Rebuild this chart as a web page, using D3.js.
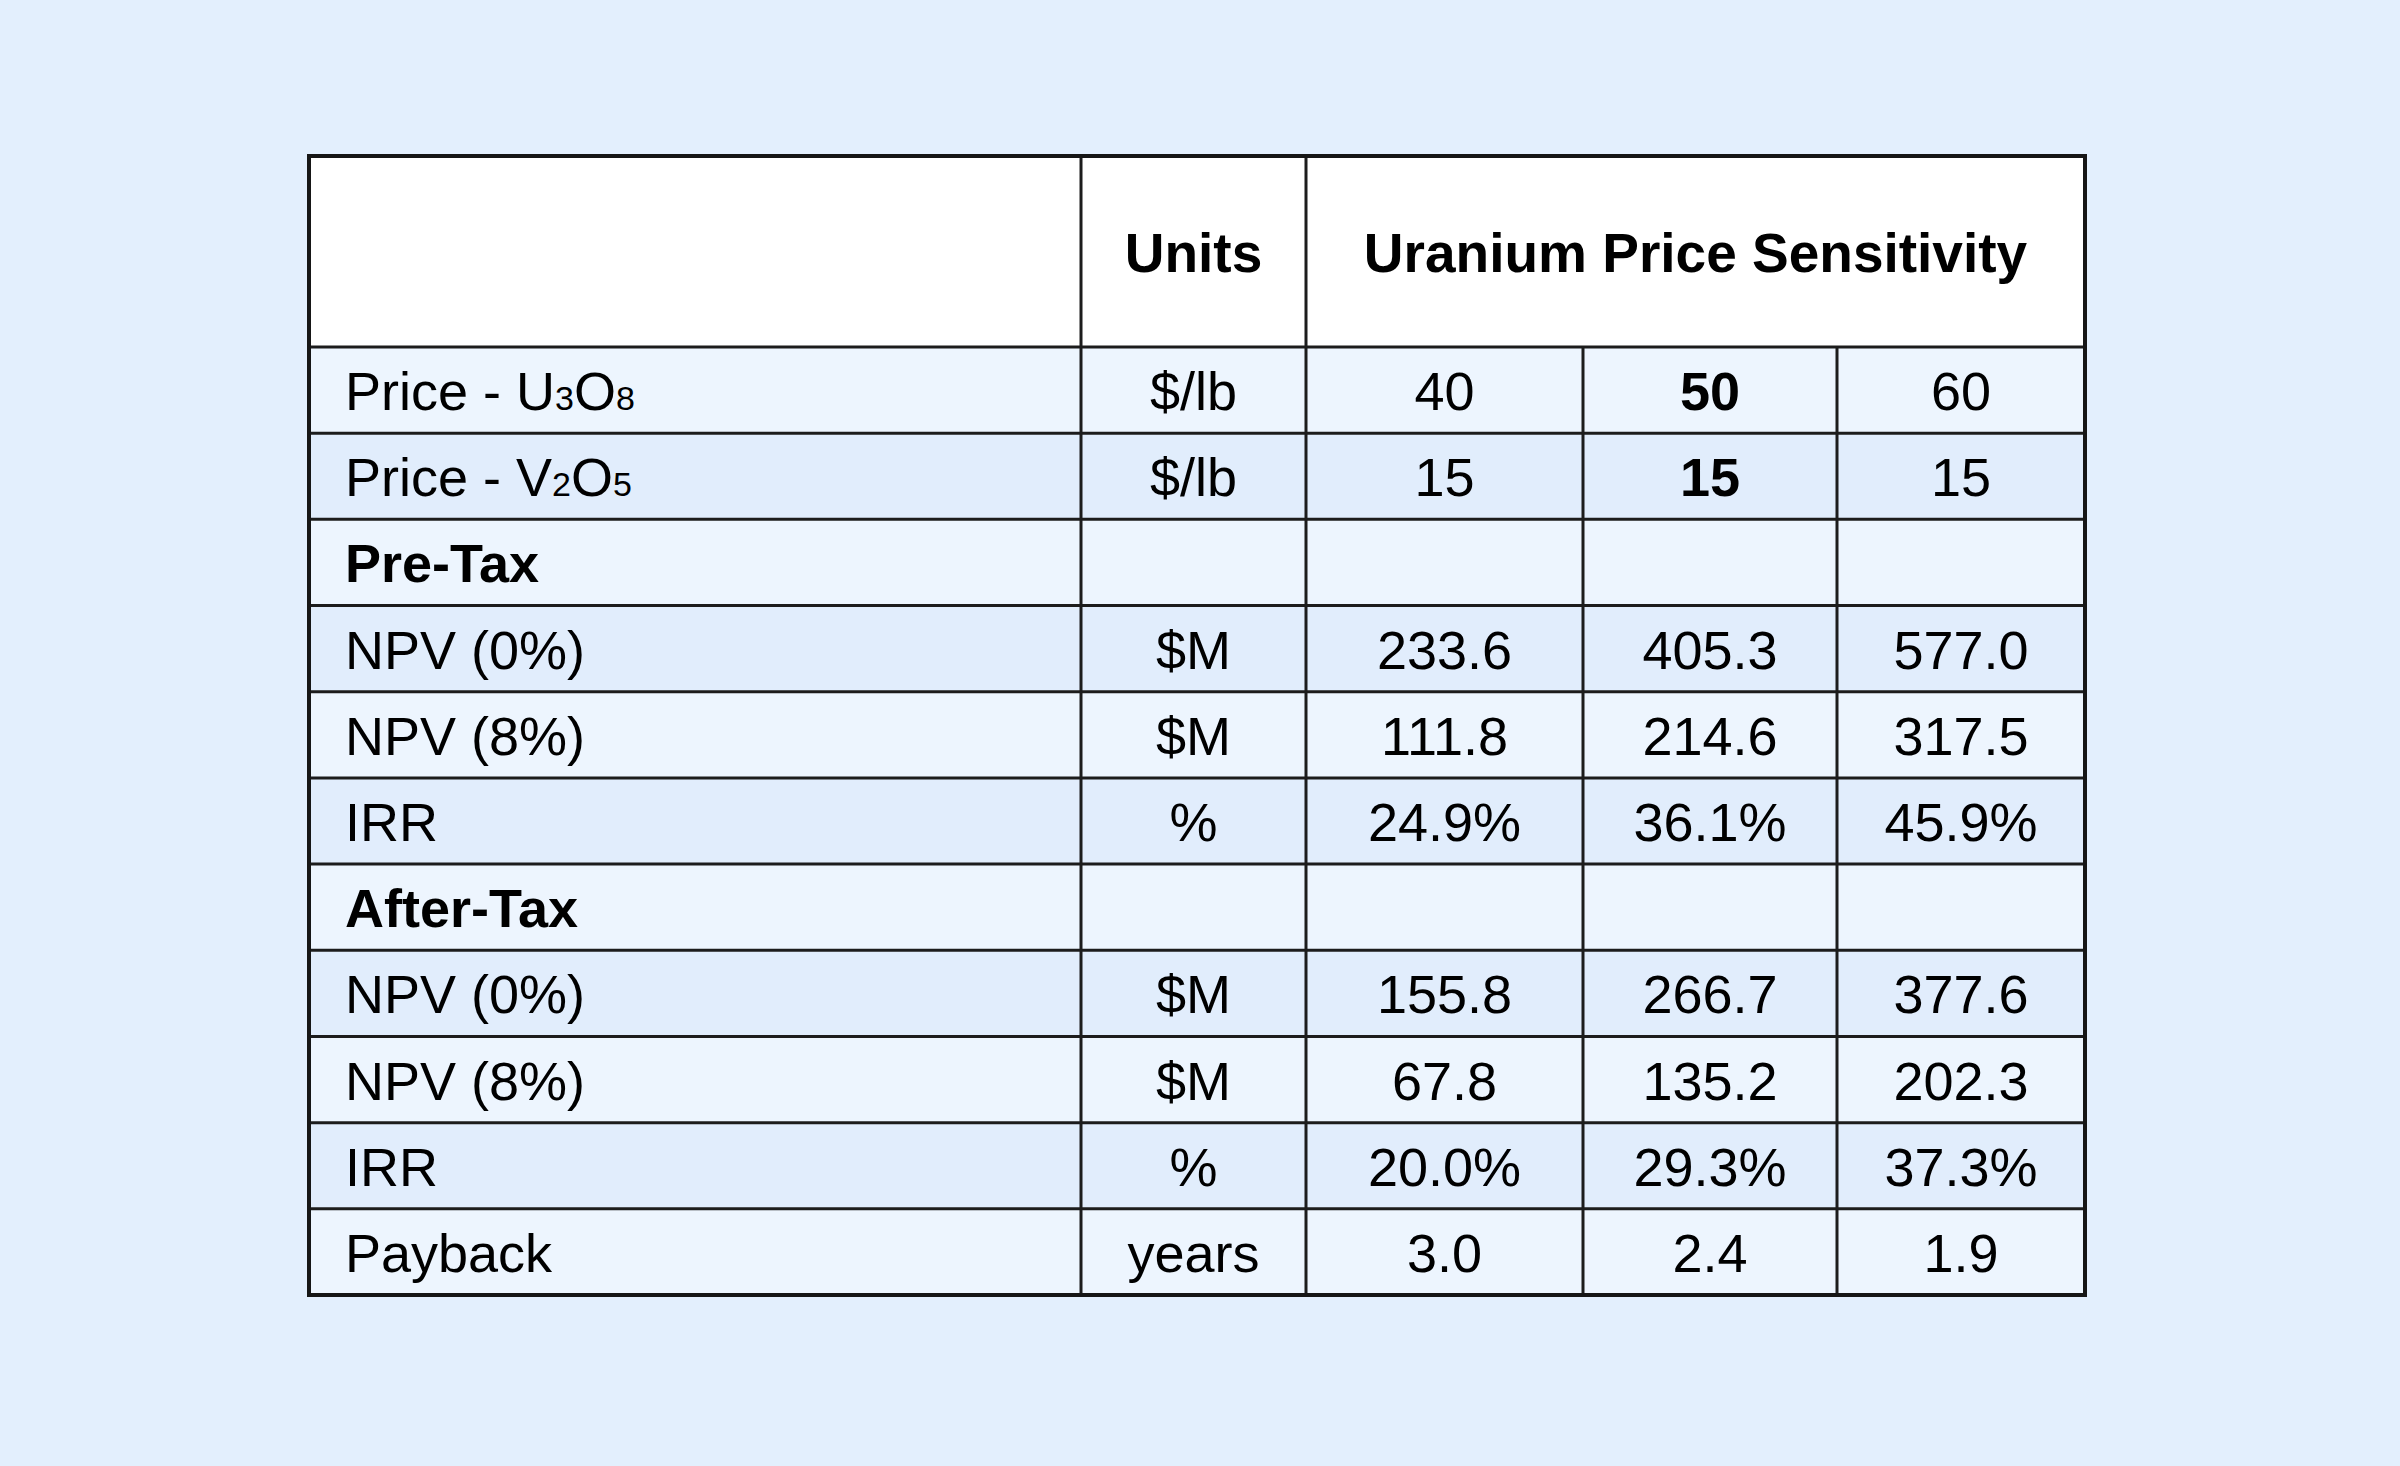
<!DOCTYPE html>
<html>
<head>
<meta charset="utf-8">
<script src="https://cdn.jsdelivr.net/npm/d3@7"></script>
<style>
  html, body { margin: 0; padding: 0; background: #e3effd; }
  svg { display: block; }
</style>
</head>
<body>
<div id="chart"></div>
<script>
// ---- Data ----
const headerUnits = "Units";
const headerGroup = "Uranium Price Sensitivity";
// row labels; segments with sub:true are rendered as small subscript digits
const rowLabels = [
  [{t: "Price - U"}, {t: "3", sub: true}, {t: "O"}, {t: "8", sub: true}],
  [{t: "Price - V"}, {t: "2", sub: true}, {t: "O"}, {t: "5", sub: true}],
  [{t: "Pre-Tax"}],
  [{t: "NPV (0%)"}],
  [{t: "NPV (8%)"}],
  [{t: "IRR"}],
  [{t: "After-Tax"}],
  [{t: "NPV (0%)"}],
  [{t: "NPV (8%)"}],
  [{t: "IRR"}],
  [{t: "Payback"}]
];
const sectionRows = [2, 6];           // bold section headings
const units = ["$/lb", "$/lb", "", "$M", "$M", "%", "", "$M", "$M", "%", "years"];
const scenarioLow  = ["40", "15", "", "233.6", "111.8", "24.9%", "", "155.8", "67.8", "20.0%", "3.0"];
const scenarioBase = ["50", "15", "", "405.3", "214.6", "36.1%", "", "266.7", "135.2", "29.3%", "2.4"];
const scenarioHigh = ["60", "15", "", "577.0", "317.5", "45.9%", "", "377.6", "202.3", "37.3%", "1.9"];
const boldBaseRows = [0, 1];          // base-case price values shown in bold

// ---- Layout ----
const W = 2400, H = 1466;
const tLeft = 309, tRight = 2085, tTop = 156, tHeaderBottom = 347, tBottom = 1295;
const colEdges = [tLeft, 1081, 1306, 1583, 1837, tRight];
const fontSize = 54;
const headerFontSize = 55;
const subFontSize = 34;
const font = "'Liberation Sans', Arial, Helvetica, sans-serif";
const lineColor = "#1c1c1c";

const svg = d3.select("#chart").append("svg")
  .attr("width", W).attr("height", H);

svg.append("rect").attr("width", W).attr("height", H).attr("fill", "#e3effd");

const y = d3.scaleBand()
  .domain(d3.range(rowLabels.length))
  .range([tHeaderBottom, tBottom])
  .paddingInner(0).paddingOuter(0);

const colX = d3.scaleOrdinal().domain(d3.range(colEdges.length)).range(colEdges);
const colCenter = i => (colX(i) + colX(i + 1)) / 2;

// header background
svg.append("rect")
  .attr("x", tLeft).attr("y", tTop)
  .attr("width", tRight - tLeft).attr("height", tHeaderBottom - tTop)
  .attr("fill", "#ffffff");

// row backgrounds
svg.append("g").selectAll("rect")
  .data(d3.range(rowLabels.length))
  .join("rect")
  .attr("x", tLeft).attr("y", d => y(d))
  .attr("width", tRight - tLeft).attr("height", y.bandwidth())
  .attr("fill", d => d % 2 === 0 ? "#edf5fe" : "#e1edfc");

// header text
const headerBaseline = (tTop + tHeaderBottom) / 2 + 20;
svg.append("text")
  .attr("x", colCenter(1)).attr("y", headerBaseline)
  .attr("text-anchor", "middle")
  .attr("font-family", font).attr("font-size", headerFontSize).attr("font-weight", "bold")
  .text(headerUnits);
svg.append("text")
  .attr("x", (colX(2) + colX(5)) / 2).attr("y", headerBaseline)
  .attr("text-anchor", "middle")
  .attr("font-family", font).attr("font-size", headerFontSize).attr("font-weight", "bold")
  .text(headerGroup);

const baseline = i => y(i) + y.bandwidth() / 2 + 20;

// row labels
const labels = svg.append("g").selectAll("text")
  .data(rowLabels)
  .join("text")
  .attr("x", tLeft + 36)
  .attr("y", (d, i) => baseline(i))
  .attr("font-family", font).attr("font-size", fontSize)
  .attr("font-weight", (d, i) => sectionRows.includes(i) ? "bold" : "normal")
  .attr("fill", "#000");
labels.each(function(segs) {
  const t = d3.select(this);
  segs.forEach(s => {
    t.append("tspan")
      .attr("font-size", s.sub ? subFontSize : fontSize)
      .text(s.t);
  });
});

// value columns
const columns = [units, scenarioLow, scenarioBase, scenarioHigh];
columns.forEach((col, ci) => {
  svg.append("g").selectAll("text")
    .data(col)
    .join("text")
    .attr("x", colCenter(ci + 1))
    .attr("y", (d, i) => baseline(i))
    .attr("text-anchor", "middle")
    .attr("font-family", font).attr("font-size", fontSize)
    .attr("font-weight", (d, i) => (ci === 2 && boldBaseRows.includes(i)) ? "bold" : "normal")
    .attr("fill", "#000")
    .text(d => d);
});

// grid lines
const grid = svg.append("g").attr("stroke", lineColor).attr("stroke-width", 3);
grid.selectAll("line.h")
  .data(d3.range(rowLabels.length))
  .join("line")
  .attr("class", "h")
  .attr("x1", tLeft).attr("x2", tRight)
  .attr("y1", d => y(d)).attr("y2", d => y(d));
grid.append("line").attr("x1", colX(1)).attr("x2", colX(1)).attr("y1", tTop).attr("y2", tBottom);
grid.append("line").attr("x1", colX(2)).attr("x2", colX(2)).attr("y1", tTop).attr("y2", tBottom);
grid.append("line").attr("x1", colX(3)).attr("x2", colX(3)).attr("y1", tHeaderBottom).attr("y2", tBottom);
grid.append("line").attr("x1", colX(4)).attr("x2", colX(4)).attr("y1", tHeaderBottom).attr("y2", tBottom);

// outer border
svg.append("rect")
  .attr("x", tLeft).attr("y", tTop)
  .attr("width", tRight - tLeft).attr("height", tBottom - tTop)
  .attr("fill", "none").attr("stroke", "#161616").attr("stroke-width", 4);
</script>
</body>
</html>
